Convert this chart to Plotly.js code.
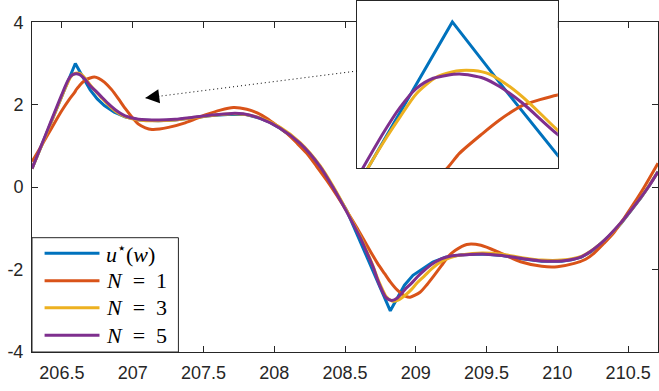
<!DOCTYPE html>
<html>
<head>
<meta charset="utf-8">
<script src="https://cdn.plot.ly/plotly-3.0.1.min.js"></script>
<style>
html,body{margin:0;padding:0;background:#fff;}
#chart{width:659px;height:391px;}
</style>
</head>
<body>
<div id="chart"></div>
<script>
// ---- data ----
const seriesNames = ['<i>u</i><sup>\u22C6</sup>(<i>w</i>)', '<i>N</i>\u2002=\u20021', '<i>N</i>\u2002=\u20023', '<i>N</i>\u2002=\u20025'];
const seriesColors = ['#0072BD', '#D95319', '#EDB120', '#7E2F8E'];

const xBlue = [206.289, 206.595, 206.65, 206.70, 206.75, 206.80, 206.87, 206.95, 207.05, 207.18, 207.30, 207.42, 207.56, 207.70, 207.80, 207.90, 207.97, 208.04, 208.11, 208.18, 208.25, 208.324, 208.418, 208.51, 208.82, 208.87, 208.92, 208.98, 209.05, 209.12, 209.21, 209.33, 209.47, 209.61, 209.75, 209.89, 210.03, 210.10, 210.17, 210.24, 210.31, 210.38, 210.45, 210.52, 210.59, 210.65, 210.711];
const yBlue = [0.45, 3.0, 2.66, 2.36, 2.14, 1.98, 1.82, 1.70, 1.63, 1.61, 1.63, 1.68, 1.74, 1.77, 1.76, 1.67, 1.57, 1.43, 1.26, 1.06, 0.80, 0.50, -0.02, -0.55, -3.0, -2.69, -2.38, -2.14, -1.97, -1.82, -1.70, -1.64, -1.62, -1.66, -1.74, -1.80, -1.80, -1.76, -1.70, -1.56, -1.36, -1.14, -0.88, -0.58, -0.26, 0.04, 0.38];

const xN1 = [206.289, 206.35, 206.40, 206.45, 206.50, 206.55, 206.59, 206.602, 206.625, 206.642, 206.665, 206.70, 206.73, 206.76, 206.80, 206.853, 206.90, 206.947, 207.00, 207.041, 207.09, 207.136, 207.19, 207.253, 207.371, 207.512, 207.62, 207.712, 207.806, 207.88, 207.947, 208.02, 208.088, 208.16, 208.23, 208.30, 208.37, 208.44, 208.512, 208.58, 208.63, 208.68, 208.73, 208.78, 208.82, 208.87, 208.93, 208.96, 209.03, 209.08, 209.13, 209.18, 209.23, 209.28, 209.36, 209.46, 209.60, 209.74, 209.89, 210.00, 210.12, 210.20, 210.26, 210.33, 210.40, 210.47, 210.54, 210.61, 210.711];
const yN1 = [0.62, 0.97, 1.27, 1.57, 1.86, 2.12, 2.30, 2.37, 2.465, 2.53, 2.60, 2.65, 2.67, 2.64, 2.55, 2.36, 2.14, 1.91, 1.68, 1.53, 1.44, 1.40, 1.41, 1.45, 1.56, 1.75, 1.87, 1.93, 1.89, 1.80, 1.67, 1.49, 1.31, 1.07, 0.82, 0.50, 0.17, -0.19, -0.58, -0.96, -1.26, -1.56, -1.85, -2.10, -2.30, -2.50, -2.65, -2.67, -2.55, -2.36, -2.14, -1.91, -1.68, -1.53, -1.39, -1.41, -1.60, -1.81, -1.92, -1.93, -1.85, -1.75, -1.60, -1.36, -1.10, -0.76, -0.40, -0.02, 0.58];

const xN3 = [206.289, 206.35, 206.40, 206.45, 206.50, 206.526, 206.543, 206.559, 206.579, 206.599, 206.616, 206.632, 206.652, 206.672, 206.70, 206.74, 206.783, 206.83, 206.877, 206.947, 207.041, 207.183, 207.30, 207.418, 207.559, 207.70, 207.78, 207.90, 208.042, 208.183, 208.324, 208.418, 208.512, 208.607, 208.65, 208.70, 208.73, 208.756, 208.79, 208.83, 208.846, 208.87, 208.90, 208.93, 208.97, 209.01, 209.06, 209.11, 209.18, 209.25, 209.33, 209.47, 209.61, 209.75, 209.89, 210.03, 210.17, 210.31, 210.45, 210.52, 210.59, 210.65, 210.711];
const yN3 = [0.45, 0.95, 1.37, 1.79, 2.21, 2.42, 2.545, 2.655, 2.735, 2.765, 2.767, 2.75, 2.69, 2.61, 2.48, 2.32, 2.16, 1.99, 1.85, 1.71, 1.63, 1.61, 1.63, 1.68, 1.74, 1.78, 1.77, 1.68, 1.45, 1.08, 0.52, 0.01, -0.57, -1.19, -1.52, -1.93, -2.21, -2.42, -2.65, -2.76, -2.77, -2.75, -2.69, -2.61, -2.48, -2.32, -2.16, -1.99, -1.80, -1.70, -1.64, -1.60, -1.63, -1.71, -1.77, -1.77, -1.68, -1.36, -0.87, -0.56, -0.25, 0.05, 0.37];

const xN5 = [206.289, 206.35, 206.40, 206.45, 206.50, 206.526, 206.543, 206.559, 206.576, 206.602, 206.626, 206.642, 206.665, 206.70, 206.74, 206.783, 206.83, 206.877, 206.947, 207.041, 207.183, 207.30, 207.418, 207.559, 207.70, 207.78, 207.90, 208.042, 208.183, 208.324, 208.418, 208.512, 208.607, 208.65, 208.70, 208.73, 208.756, 208.79, 208.83, 208.87, 208.93, 208.97, 209.01, 209.06, 209.11, 209.18, 209.25, 209.33, 209.47, 209.61, 209.75, 209.89, 210.03, 210.17, 210.31, 210.45, 210.52, 210.59, 210.65, 210.711];
const yN5 = [0.45, 0.97, 1.40, 1.83, 2.25, 2.465, 2.59, 2.68, 2.73, 2.75, 2.73, 2.69, 2.61, 2.46, 2.33, 2.18, 2.02, 1.88, 1.73, 1.65, 1.63, 1.645, 1.69, 1.75, 1.79, 1.78, 1.67, 1.43, 1.06, 0.50, -0.02, -0.60, -1.22, -1.55, -1.95, -2.25, -2.465, -2.68, -2.75, -2.69, -2.46, -2.33, -2.18, -2.02, -1.88, -1.74, -1.67, -1.645, -1.62, -1.66, -1.73, -1.79, -1.79, -1.69, -1.36, -0.86, -0.56, -0.25, 0.04, 0.37];

const xTickVals = [206.5, 207, 207.5, 208, 208.5, 209, 209.5, 210, 210.5];
const xTickText = ['206.5', '207', '207.5', '208', '208.5', '209', '209.5', '210', '210.5'];
const yTickVals = [-4, -2, 0, 2, 4];
const yTickText = ['-4', '-2', '0', '2', '4'];

const xRange = [206.289, 210.711];
const yRange = [-4, 4];
const insetXRange = [206.5, 206.7];
const insetYRange = [2.3, 3.1];
// arrow from inset edge to the zoomed region (data coords of main axes)
const arrowFrom = [208.585, 2.818];
const arrowTo = [207.089, 2.163];

// ---- build ----
const xs = [xBlue, xN1, xN3, xN5];
const ys = [yBlue, yN1, yN3, yN5];
const traces = [];
for (let i = 0; i < 4; i++) {
  const shape = i === 0 ? 'linear' : 'spline';
  traces.push({x: xs[i], y: ys[i], type: 'scatter', mode: 'lines', xaxis: 'x', yaxis: 'y',
    line: {color: seriesColors[i], width: 3, shape: shape, smoothing: 0.7}, showlegend: false, hoverinfo: 'skip'});
}
for (let i = 0; i < 4; i++) {
  const shape = i === 0 ? 'linear' : 'spline';
  traces.push({x: xs[i], y: ys[i], type: 'scatter', mode: 'lines', xaxis: 'x2', yaxis: 'y2',
    line: {color: seriesColors[i], width: 3, shape: shape, smoothing: 0.7}, showlegend: false, hoverinfo: 'skip'});
}

const axisCol = '#262626';
const tickFont = {family: 'Liberation Sans', size: 18, color: axisCol};
const legendFont = {family: 'Liberation Serif', size: 22, color: '#000', weight: 'normal'};

const legTop = 0.3467, legRight = 0.2339;
const rowY = [0.2994, 0.2163, 0.1344, 0.0506];
const shapes = [
  {type: 'rect', xref: 'x domain', yref: 'y domain', x0: 0, x1: legRight, y0: 0, y1: legTop,
   fillcolor: '#ffffff', line: {color: axisCol, width: 1}, layer: 'above'},
  {type: 'line', xref: 'x', yref: 'y', x0: arrowFrom[0], y0: arrowFrom[1], x1: arrowTo[0], y1: arrowTo[1],
   line: {color: '#000', width: 1, dash: '1px,3px'}, layer: 'above'}
];
const annotations = [
  {x: arrowTo[0], y: arrowTo[1], xref: 'x', yref: 'y', text: ' ', showarrow: true,
   arrowhead: 2, arrowsize: 2.8, arrowwidth: 1, arrowcolor: '#000', ax: 16, ay: -2, font: {size: 2}}
];
for (let i = 0; i < 4; i++) {
  shapes.push({type: 'line', xref: 'x domain', yref: 'y domain', x0: 0.0201, x1: 0.1078, y0: rowY[i], y1: rowY[i],
    line: {color: seriesColors[i], width: 3}, layer: 'above'});
  annotations.push({xref: 'x domain', yref: 'y domain', x: 0.1158, y: rowY[i], xanchor: 'left', yanchor: 'middle',
    text: seriesNames[i], showarrow: false, font: legendFont});
}

const layout = {
  width: 659, height: 391,
  margin: {l: 32, r: 1, t: 1, b: 39},
  paper_bgcolor: '#fff', plot_bgcolor: '#fff',
  font: {family: 'Liberation Sans'},
  showlegend: false,
  hovermode: false,
  xaxis: {range: xRange, domain: [0, 1], anchor: 'y', tickvals: xTickVals, ticktext: xTickText,
    ticks: 'inside', ticklen: 6, tickcolor: axisCol, tickwidth: 1, showline: true, linecolor: axisCol, linewidth: 1,
    mirror: 'ticks', showgrid: false, zeroline: false, tickfont: tickFont, ticklabelstandoff: 4},
  yaxis: {range: yRange, domain: [0, 0.9393], anchor: 'x', tickvals: yTickVals, ticktext: yTickText,
    ticks: 'inside', ticklen: 6, tickcolor: axisCol, tickwidth: 1, showline: true, linecolor: axisCol, linewidth: 1,
    mirror: 'ticks', showgrid: false, zeroline: false, tickfont: tickFont, ticklabelstandoff: 4},
  xaxis2: {range: insetXRange, domain: [0.519, 0.840], anchor: 'y2', showticklabels: false, ticks: '',
    showline: true, linecolor: axisCol, linewidth: 1, mirror: true, showgrid: false, zeroline: false},
  yaxis2: {range: insetYRange, domain: [0.5242, 1], anchor: 'x2', showticklabels: false, ticks: '',
    showline: true, linecolor: axisCol, linewidth: 1, mirror: true, showgrid: false, zeroline: false},
  shapes: shapes,
  annotations: annotations
};

Plotly.newPlot('chart', traces, layout, {staticPlot: true, displayModeBar: false});
</script>
</body>
</html>
